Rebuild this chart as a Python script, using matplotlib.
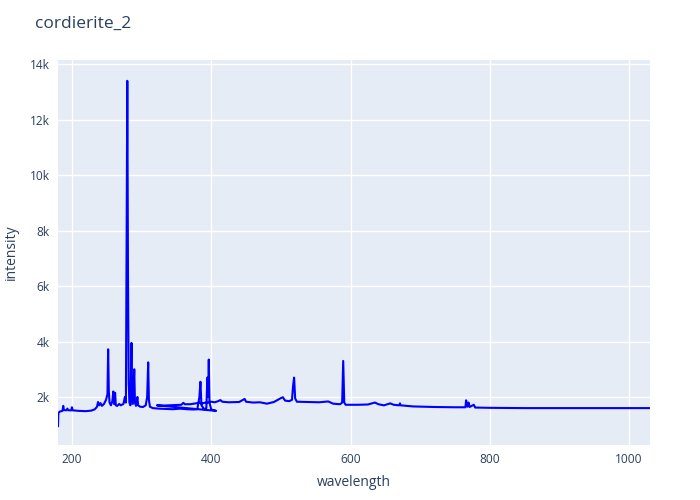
import matplotlib.pyplot as plt
from matplotlib.ticker import FuncFormatter

# first segment of the spectrum (short wavelength)
wl_1 = [180, 180.5, 183, 186.5, 187.5, 188.5, 192, 193.5, 195, 199, 200, 201, 210, 220,
        228, 233, 236, 237.5, 239, 241, 243, 246, 249, 251, 252, 253, 254, 256, 258,
        259.5, 260.5, 262, 263, 265, 268, 270, 274, 276, 277.5, 278.5, 279.5, 280.5,
        281.5, 282.5, 284, 285.5, 286.5, 287.5, 289.5, 290.5, 292, 294, 295, 298, 302,
        306, 308, 309.5, 310.5, 312, 316, 325, 335, 345, 355, 365, 375, 380, 383, 384.5,
        386, 390, 393, 394.5, 395.5, 396.5, 397.5, 400, 407]
int_1 = [950, 1420, 1480, 1500, 1680, 1530, 1520, 1580, 1520, 1520, 1630, 1520, 1500, 1490,
         1510, 1560, 1650, 1820, 1700, 1780, 1680, 1750, 1900, 2100, 3720, 2200, 1800, 1700, 1850,
         2200, 1750, 2150, 1700, 1680, 1750, 1700, 1750, 2000, 1800, 7500, 13400, 6400,
         2500, 1800, 1700, 3950, 2000, 1750, 3000, 1800, 1680, 2000, 1700, 1650, 1640,
         1700, 2000, 3250, 1900, 1650, 1600, 1580, 1570, 1560, 1580, 1560, 1550, 1560, 2000, 2550,
         1700, 1560, 1600, 2700, 2000, 3350, 1800, 1550, 1500]

# second segment (starts again at 322 nm)
wl_2 = [322, 330, 340, 350, 357, 360, 362, 370, 375, 380, 383, 386, 390, 395, 400, 405,
        410, 413, 416, 425, 440, 448, 450, 460, 470, 480, 490, 500, 503, 506, 512, 516,
        517.5, 519, 520.5, 523, 540, 555, 568, 575, 585, 588, 589.5, 591, 593, 610, 625,
        635, 640, 648, 657, 662, 670, 671, 672, 690, 720, 750, 765, 766, 768, 769.5, 771,
        777, 779, 800, 850, 900, 950, 1000, 1030]
int_2 = [1700, 1690, 1700, 1710, 1720, 1790, 1740, 1740, 1760, 1780, 1800, 1760, 1790, 1800,
         1830, 1810, 1850, 1890, 1830, 1810, 1820, 1930, 1830, 1800, 1810, 1760, 1820, 1960,
         1990, 1870, 1850, 1900, 2400, 2700, 1950, 1830, 1820, 1810, 1840, 1760, 1740, 1800,
         3300, 1800, 1720, 1720, 1730, 1800, 1740, 1700, 1770, 1720, 1700, 1770, 1700, 1660,
         1640, 1630, 1630, 1880, 1650, 1800, 1640, 1720, 1620, 1610, 1600, 1600, 1600, 1600, 1600]

wavelength = wl_1 + wl_2
intensity = int_1 + int_2

x_ticks = [200, 400, 600, 800, 1000]
y_ticks = [2000, 4000, 6000, 8000, 10000, 12000, 14000]

plt.rcParams['font.family'] = ['Open Sans', 'DejaVu Sans']
txt = '#2a3f5f'

fig = plt.figure(figsize=(7, 5), dpi=100)
ax = fig.add_axes([58 / 700, 1 - 445 / 500, 592 / 700, 385 / 500])
ax.set_facecolor('#E5ECF6')
ax.plot(wavelength, intensity, color='#0000ff', lw=1.5)

ax.set_xlim(180, 1030)
ax.set_ylim(270, 14150)
ax.set_xticks(x_ticks)
ax.set_yticks(y_ticks)
ax.yaxis.set_major_formatter(FuncFormatter(lambda v, p: f'{int(v / 1000)}k'))
ax.grid(color='white', lw=1)
ax.set_axisbelow(True)
for s in ax.spines.values():
    s.set_visible(False)
ax.tick_params(length=0, labelsize=8.6, labelcolor=txt, pad=6)

fig.text(35 / 700, 1 - 24 / 500, 'cordierite_2', fontsize=12.5, color=txt, va='center')
fig.text(354 / 700, 1 - 483 / 500, 'wavelength', fontsize=10, color=txt, ha='center', va='center')
fig.text(11 / 700, 1 - 252 / 500, 'intensity', fontsize=10, color=txt, ha='center', va='center',
         rotation=90)

fig.savefig('out.png')
